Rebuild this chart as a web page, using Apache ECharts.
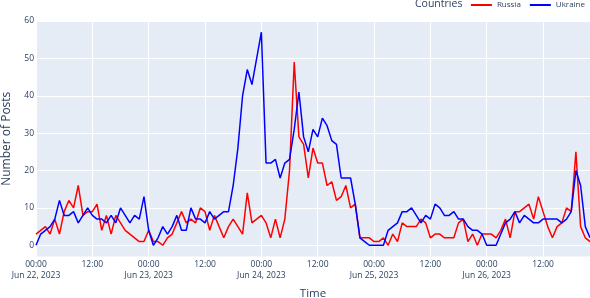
<!DOCTYPE html>
<html>
<head>
<meta charset="utf-8">
<script src="https://cdn.jsdelivr.net/npm/echarts@6/dist/echarts.min.js"></script>
<style>
html,body{margin:0;padding:0;background:#fff;}
#c{width:590px;height:298px;}
</style>
</head>
<body>
<div id="c"></div>
<script>
// Hourly timestamps starting Jun 22, 2023 00:00 (119 hours)
var startDate = new Date(2023, 5, 22, 0, 0);
var hourCount = 119;
var times = [];
for (var i = 0; i < hourCount; i++) {
  var d = new Date(startDate.getTime() + i * 3600000);
  times.push(d);
}
var monthNames = ['Jan','Feb','Mar','Apr','May','Jun','Jul','Aug','Sep','Oct','Nov','Dec'];

var russia = [3,4,5,3,7,3,9,12,10,16,8,9,9,11,4,8,3,8,6,4,
  3,2,1,1,4,1,1,0,2,3,6,9,6,7,6,10,9,4,8,5,
  2,5,7,5,3,14,6,7,8,6,2,7,2,7,20,49,29,27,18,26,
  22,22,16,17,12,13,16,10,11,2,2,2,1,1,2,0,3,1,6,5,
  5,5,7,6,2,3,3,2,2,2,6,7,1,3,0,3,3,3,2,4,
  7,2,9,9,10,11,7,13,9,5,2,5,6,10,9,25,5,2,1];

var ukraine = [0,3,4,5,7,12,8,8,9,6,8,10,8,7,7,6,8,6,10,8,
  6,8,7,13,4,0,2,5,3,5,8,4,4,10,7,7,6,9,7,8,
  9,9,16,26,40,47,43,50,57,22,22,23,18,22,23,31,41,29,25,31,
  29,34,32,28,27,18,18,18,11,2,1,0,0,0,0,4,5,6,9,9,
  10,8,6,8,7,11,10,8,8,9,7,7,5,4,4,3,0,0,0,3,
  6,7,9,6,8,7,6,6,7,7,7,7,6,7,9,20,16,5,2];

var yTicks = [0,10,20,30,40,50,60];

var chart = echarts.init(document.getElementById('c'), null, {renderer: 'canvas'});
var fontFam = '"Open Sans", verdana, arial, sans-serif';
var txtColor = '#2a3f5f';

function pad(n){ return n < 10 ? '0' + n : '' + n; }

chart.setOption({
  animation: false,
  backgroundColor: '#ffffff',
  textStyle: {fontFamily: fontFam},
  grid: {
    left: 36, right: 0, top: 21, bottom: 41.5,
    outerBoundsMode: 'none',
    containLabel: false,
    show: true, backgroundColor: '#E5ECF6', borderWidth: 0
  },
  graphic: [{
    type: 'text', left: 415, top: -1,
    style: {text: 'Countries', fontSize: 10.5, fill: txtColor, fontFamily: fontFam}
  }],
  legend: {
    right: 0, top: -4,
    itemWidth: 21, itemHeight: 2, itemGap: 9,
    icon: 'rect',
    textStyle: {fontSize: 8, color: txtColor, fontFamily: fontFam},
    data: ['Russia', 'Ukraine']
  },
  xAxis: {
    type: 'category',
    data: times.map(function(d){ return d.getTime(); }),
    boundaryGap: false,
    name: 'Time',
    nameLocation: 'middle',
    nameGap: 31,
    nameTextStyle: {fontSize: 11.5, color: txtColor},
    axisLine: {show: false, onZero: false},
    axisTick: {show: false},
    axisLabel: {
      interval: function(idx){ return idx % 12 === 0; },
      fontSize: 8.5, color: txtColor, lineHeight: 11, margin: 3,
      formatter: function(v){
        var d = new Date(Number(v));
        var t = pad(d.getHours()) + ':' + pad(d.getMinutes());
        if (d.getHours() === 0) {
          return t + '\n' + monthNames[d.getMonth()] + ' ' + d.getDate() + ', ' + d.getFullYear();
        }
        return t;
      }
    },
    splitLine: {
      show: true,
      interval: function(idx){ return idx % 12 === 0; },
      lineStyle: {color: '#ffffff', width: 1}
    }
  },
  yAxis: {
    type: 'value',
    min: -3, max: 60,
    name: 'Number of Posts',
    nameLocation: 'middle',
    nameGap: 23,
    nameTextStyle: {fontSize: 12, color: txtColor},
    axisLine: {show: false},
    axisTick: {show: false, customValues: yTicks},
    axisLabel: {
      fontSize: 8.5, color: txtColor, margin: 2,
      customValues: yTicks
    },
    splitLine: {
      show: true,
      lineStyle: {color: '#ffffff', width: 1}
    }
  },
  series: [
    {
      name: 'Russia', type: 'line', data: russia,
      showSymbol: false, symbol: 'none',
      lineStyle: {color: '#ff0000', width: 1.5},
      itemStyle: {color: '#ff0000'}
    },
    {
      name: 'Ukraine', type: 'line', data: ukraine,
      showSymbol: false, symbol: 'none',
      lineStyle: {color: '#0000ff', width: 1.5},
      itemStyle: {color: '#0000ff'}
    }
  ]
});
</script>
</body>
</html>
